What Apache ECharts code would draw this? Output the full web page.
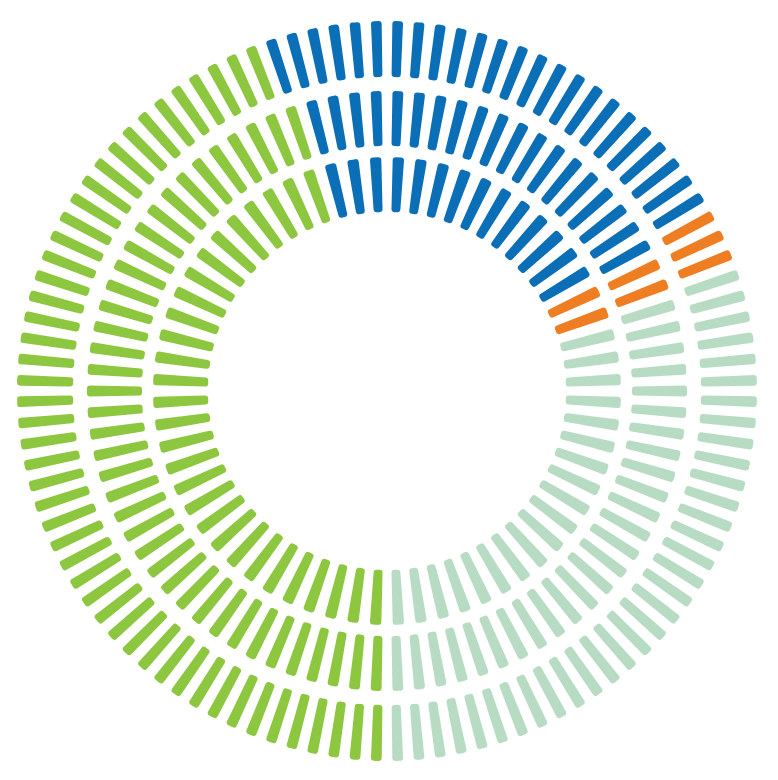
<!DOCTYPE html>
<html>
<head>
<meta charset="utf-8">
<script src="https://cdn.jsdelivr.net/npm/echarts@6/dist/echarts.min.js"></script>
<style>
  html, body { margin: 0; padding: 0; background: #ffffff; }
  #chart { width: 778px; height: 780px; }
</style>
</head>
<body>
<div id="chart"></div>
<script>
// Segment order: clockwise starting at 6 o'clock
const segmentNames = ['Lime', 'Blue', 'Orange', 'Mint'];
const segmentColors = ['#8dc63f', '#0b6fb8', '#ef7d22', '#b8dcc3'];

// Share of each ring (percent of the full circle), per segment
const outerShares  = [44.7, 21.9, 2.9, 30.5];
const middleShares = [44.8, 22.2, 2.4, 30.6];
const innerShares  = [45.2, 21.3, 3.1, 30.4];

// Number of dashes drawn in each ring
const outerTicks  = 108;
const middleTicks = 86;
const innerTicks  = 64;

const rings = [
  { shares: outerShares,  ticks: outerTicks,  radius: [314, 370] },
  { shares: middleShares, ticks: middleTicks, radius: [245, 300] },
  { shares: innerShares,  ticks: innerTicks,  radius: [179, 234] }
];

const center = [387, 391];

function ringData(shares, n) {
  const bounds = [];
  let acc = 0;
  shares.forEach(s => { acc += s; bounds.push(acc); });
  const out = [];
  for (let k = 0; k < n; k++) {
    const a = (k + 0.5) * 360 / n;            // clockwise from top
    const rel = ((a - 180) % 360 + 360) % 360; // clockwise from bottom
    const pct = rel / 360 * 100;
    let idx = bounds.findIndex(b => pct < b);
    if (idx < 0) idx = shares.length - 1;
    out.push({ value: 1, name: segmentNames[idx], itemStyle: { color: segmentColors[idx] } });
  }
  return out;
}

const polar = [], angleAxis = [], radiusAxis = [], series = [];
rings.forEach((r, i) => {
  polar.push({ center: center, radius: r.radius });
  angleAxis.push({
    polarIndex: i, type: 'category', startAngle: 90, clockwise: true,
    data: Array.from({ length: r.ticks }, (_, k) => String(k)),
    axisLine: { show: false }, axisTick: { show: false },
    axisLabel: { show: false }, splitLine: { show: false }
  });
  radiusAxis.push({
    polarIndex: i, type: 'value', min: 0, max: 1,
    axisLine: { show: false }, axisTick: { show: false },
    axisLabel: { show: false }, splitLine: { show: false }
  });
  series.push({
    type: 'bar', coordinateSystem: 'polar', polarIndex: i,
    barWidth: '50%',
    itemStyle: { borderRadius: 3 },
    data: ringData(r.shares, r.ticks),
    silent: true
  });
});

const chart = echarts.init(document.getElementById('chart'));
chart.setOption({
  animation: false,
  backgroundColor: '#ffffff',
  polar, angleAxis, radiusAxis, series
});
</script>
</body>
</html>
